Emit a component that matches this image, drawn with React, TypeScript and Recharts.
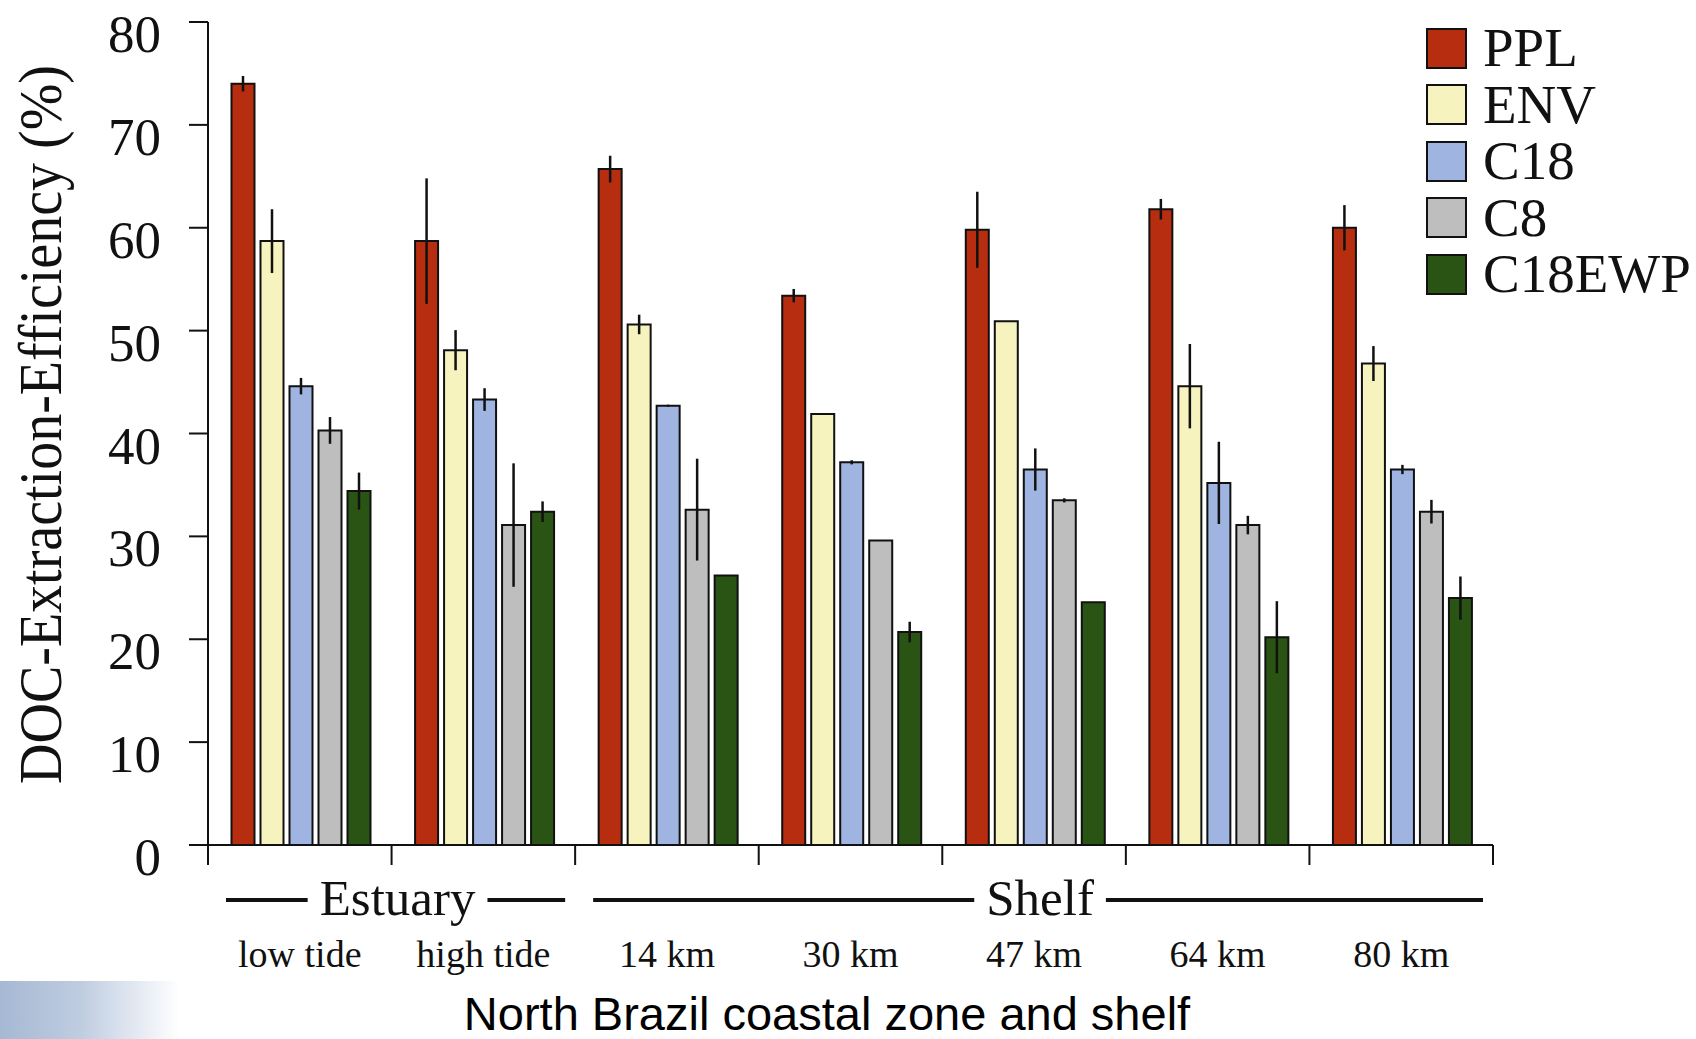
import { BarChart, Bar, XAxis, YAxis, ErrorBar, Legend } from "recharts";

const categories = ["low tide", "high tide", "14 km", "30 km", "47 km", "64 km", "80 km"];

const ppl = [74.0, 58.7, 65.7, 53.4, 59.8, 61.8, 60.0];
const pplErr = [0.75, 6.1, 1.3, 0.65, 3.7, 1.0, 2.2];
const env = [58.7, 48.1, 50.6, 41.9, 50.9, 44.6, 46.8];
const envErr = [3.1, 1.95, 0.95, 0, 0, 4.1, 1.7];
const c18 = [44.6, 43.3, 42.7, 37.2, 36.5, 35.2, 36.5];
const c18Err = [0.8, 1.1, 0.1, 0.2, 2.05, 4.0, 0.45];
const c8 = [40.3, 31.1, 32.6, 29.6, 33.5, 31.1, 32.4];
const c8Err = [1.3, 6.0, 4.95, 0, 0.2, 0.9, 1.15];
const ewp = [34.4, 32.4, 26.2, 20.7, 23.6, 20.2, 24.0];
const ewpErr = [1.8, 1.0, 0, 1.0, 0, 3.5, 2.1];

const yTicks = [0, 10, 20, 30, 40, 50, 60, 70, 80];

// zone brackets under the axis (category index range)
const groups = [
    { label: "Estuary", from: 0, to: 2 },
    { label: "Shelf", from: 2, to: 7 },
];

const series = [
    { key: "ppl", name: "PPL" },
    { key: "env", name: "ENV" },
    { key: "c18", name: "C18" },
    { key: "c8", name: "C8" },
    { key: "ewp", name: "C18EWP" },
];

const colors: Record<string, string> = {
    ppl: "#b72d0f",
    env: "#f6f3be",
    c18: "#a0b4e2",
    c8: "#bebebe",
    ewp: "#2a5413",
};

const data = categories.map((name, i) => ({
    name,
    ppl: ppl[i],
    pplErr: pplErr[i],
    env: env[i],
    envErr: envErr[i],
    c18: c18[i],
    c18Err: c18Err[i],
    c8: c8[i],
    c8Err: c8Err[i],
    ewp: ewp[i],
    ewpErr: ewpErr[i],
}));

const W = 1696;
const H = 1039;
const LEFT = 208;
const RIGHT = 203;
const TOP = 22;
const XAXIS_H = 194;
const PLOT_W = W - LEFT - RIGHT;
const BAND = PLOT_W / categories.length;
const AXIS_Y = H - XAXIS_H;

const SERIF = '"Liberation Serif", "Times New Roman", serif';
const SANS = '"Liberation Sans", Arial, sans-serif';
const INK = "#111";

let ctx: CanvasRenderingContext2D | null = null;
const measure = (text: string, font: string) => {
    if (!ctx) ctx = document.createElement("canvas").getContext("2d");
    if (!ctx) return text.length * 25;
    ctx.font = font;
    return ctx.measureText(text).width;
};

const GroupLabel = ({ label, left, right }: { label: string; left: number; right: number }) => {
    const cx = (left + right) / 2 + 6;
    const half = measure(label, `51px ${SERIF}`) / 2;
    const ly = AXIS_Y + 55;
    return (
        <g>
            <line x1={left + 18} x2={cx - half - 12} y1={ly} y2={ly} stroke={INK} strokeWidth={4} />
            <line x1={cx + half + 12} x2={right - 10} y1={ly} y2={ly} stroke={INK} strokeWidth={4} />
            <text x={cx} y={AXIS_Y + 70} textAnchor="middle" fontFamily={SERIF} fontSize={51} fill={INK}>
                {label}
            </text>
        </g>
    );
};

const CategoryTick = (props: any) => {
    const { x, payload } = props;
    const index = props.index ?? payload.index;
    const left = x - BAND / 2;
    const group = groups.find((g) => g.from === index);
    return (
        <g>
            <line x1={left} x2={left} y1={AXIS_Y} y2={AXIS_Y + 20} stroke={INK} strokeWidth={2} />
            {index === categories.length - 1 && (
                <line x1={left + BAND} x2={left + BAND} y1={AXIS_Y} y2={AXIS_Y + 20} stroke={INK} strokeWidth={2} />
            )}
            <text x={x} y={AXIS_Y + 122} textAnchor="middle" fontFamily={SERIF} fontSize={38} fill={INK}>
                {payload.value}
            </text>
            {group && (
                <GroupLabel label={group.label} left={left} right={left + (group.to - group.from) * BAND} />
            )}
        </g>
    );
};

const ValueTick = (props: any) => {
    const { x, y, payload } = props;
    return (
        <text x={x} y={y} dy={30} textAnchor="end" fontFamily={SERIF} fontSize={53} fill={INK}>
            {payload.value}
        </text>
    );
};

const YTitle = () => (
    <text
        x={61}
        y={424.5}
        transform="rotate(-90 61 424.5)"
        textAnchor="middle"
        fontFamily={SERIF}
        fontSize={62}
        textLength={719}
        lengthAdjust="spacingAndGlyphs"
        fill={INK}
    >
        DOC-Extraction-Efficiency (%)
    </text>
);

const XTitle = () => (
    <text x={827} y={1030} textAnchor="middle" fontFamily={SANS} fontSize={47} fill="#000">
        North Brazil coastal zone and shelf
    </text>
);

const seriesOrder = series.map((s) => s.name);

const LegendBox = (props: any) => {
    const items = [...(props.payload || [])].sort(
        (a: any, b: any) => seriesOrder.indexOf(a.value) - seriesOrder.indexOf(b.value)
    );
    return (
        <div style={{ fontFamily: SERIF, fontSize: 55, color: INK }}>
            {items.map((e: any) => (
                <div
                    key={e.value}
                    style={{ display: "flex", alignItems: "center", height: 56.5, lineHeight: "56.5px" }}
                >
                    <span
                        style={{
                            display: "inline-block",
                            width: 37,
                            height: 37,
                            background: e.color,
                            border: `2px solid ${INK}`,
                        }}
                    />
                    <span style={{ marginLeft: 16, whiteSpace: "nowrap" }}>{e.value}</span>
                </div>
            ))}
        </div>
    );
};

const App = () => {
    return (
        <div style={{ position: "absolute", left: 0, top: 0, width: W, height: H, background: "#fff" }}>
            <div
                style={{
                    position: "absolute",
                    left: 0,
                    top: 981,
                    width: 180,
                    height: 58,
                    background:
                        "linear-gradient(90deg, #a6b8d3 0%, #bfcde1 45%, rgba(255,255,255,0) 100%)",
                }}
            />
            <BarChart
                width={W}
                height={H}
                data={data}
                margin={{ top: TOP, right: RIGHT, bottom: 0, left: 0 }}
                barCategoryGap={23.5}
                barGap={6}
            >
                <XAxis
                    dataKey="name"
                    height={XAXIS_H}
                    interval={0}
                    tickLine={false}
                    axisLine={{ stroke: INK, strokeWidth: 2 }}
                    tick={<CategoryTick />}
                    label={<XTitle />}
                />
                <YAxis
                    type="number"
                    domain={[0, 80]}
                    ticks={yTicks}
                    width={LEFT}
                    tickSize={19}
                    tickMargin={28}
                    axisLine={{ stroke: INK, strokeWidth: 2 }}
                    tickLine={{ stroke: INK, strokeWidth: 2 }}
                    tick={<ValueTick />}
                    label={<YTitle />}
                />
                <Legend
                    layout="horizontal"
                    verticalAlign="middle"
                    align="center"
                    content={<LegendBox />}
                    wrapperStyle={{ left: 1426, top: 20, width: "auto" }}
                />
                {series.map((s) => (
                    <Bar
                        key={s.key}
                        dataKey={s.key}
                        name={s.name}
                        fill={colors[s.key]}
                        stroke={INK}
                        strokeWidth={2}
                        isAnimationActive={false}
                    >
                        <ErrorBar
                            dataKey={s.key + "Err"}
                            width={0}
                            stroke={INK}
                            strokeWidth={2.5}
                            direction="y"
                            isAnimationActive={false}
                        />
                    </Bar>
                ))}
            </BarChart>
        </div>
    );
};

export default App;
